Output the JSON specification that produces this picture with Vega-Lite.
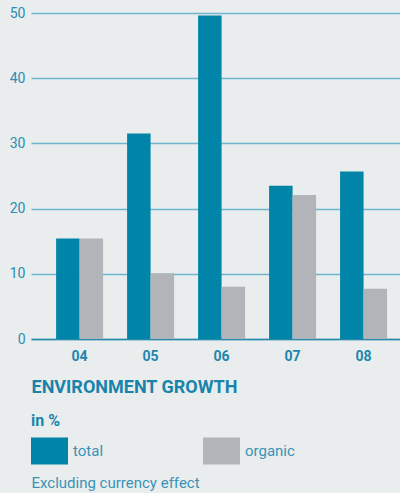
{
  "$schema": "https://vega.github.io/schema/vega-lite/v6.json",
  "width": 369,
  "height": 326,
  "autosize": {"type": "none"},
  "padding": {"left": 31, "top": 13, "right": 0, "bottom": 154},
  "background": "#e9eded",
  "data": {
    "values": [
      {"year": "04", "type": "total", "value": 15.4},
      {"year": "04", "type": "organic", "value": 15.4},
      {"year": "05", "type": "total", "value": 31.5},
      {"year": "05", "type": "organic", "value": 10.1},
      {"year": "06", "type": "total", "value": 49.6},
      {"year": "06", "type": "organic", "value": 8.0},
      {"year": "07", "type": "total", "value": 23.5},
      {"year": "07", "type": "organic", "value": 22.1},
      {"year": "08", "type": "total", "value": 25.7},
      {"year": "08", "type": "organic", "value": 7.7}
    ]
  },
  "mark": {"type": "bar"},
  "encoding": {
    "x": {
      "field": "year",
      "type": "nominal",
      "scale": {"paddingInner": 0.338, "paddingOuter": 0.268, "align": 0.66},
      "axis": {
        "title": "Excluding currency effect",
        "titleX": 0,
        "titleY": 143,
        "titleAlign": "left",
        "titleAnchor": "start",
        "titleBaseline": "middle",
        "titleFontWeight": "normal",
        "titleFontSize": 15,
        "titleColor": "#3a93b6",
        "labelAngle": 0,
        "labelFontWeight": "bold",
        "labelFontSize": 14,
        "labelColor": "#1d86ae",
        "labelPadding": 10,
        "ticks": false,
        "domainColor": "#2a88ad",
        "domainWidth": 1.5
      }
    },
    "xOffset": {"field": "type", "sort": ["total", "organic"]},
    "y": {
      "field": "value",
      "type": "quantitative",
      "scale": {"domain": [0, 50]},
      "axis": {
        "title": "ENVIRONMENT GROWTH",
        "titleAngle": 0,
        "titleAlign": "left",
        "titleBaseline": "middle",
        "titleX": 0,
        "titleY": 374,
        "titleFontSize": 18,
        "titleFontWeight": "bold",
        "titleColor": "#1984ab",
        "values": [0, 10, 20, 30, 40, 50],
        "domain": false,
        "ticks": false,
        "labelPadding": 6,
        "labelColor": "#2b8db3",
        "labelFontSize": 14,
        "gridColor": "#6fb6cd",
        "gridWidth": 1.5
      }
    },
    "color": {
      "field": "type",
      "scale": {"domain": ["total", "organic"], "range": ["#0084a8", "#b1b4b9"]},
      "legend": {
        "orient": "none",
        "legendX": 0,
        "legendY": 400,
        "title": "in %",
        "titleFontSize": 16,
        "titleFontWeight": "bold",
        "titleColor": "#1984ab",
        "titlePadding": 3,
        "direction": "horizontal",
        "columns": 2,
        "symbolType": "M-1,-0.73H1V0.73H-1Z",
        "symbolSize": 1369,
        "symbolStrokeWidth": 0,
        "symbolOpacity": 1,
        "labelFontSize": 15,
        "labelColor": "#3a93b6",
        "labelOffset": 5,
        "columnPadding": 99,
        "padding": 0
      }
    }
  },
  "config": {
    "view": {"stroke": null},
    "font": "Liberation Sans Narrow, Roboto, sans-serif"
  }
}
